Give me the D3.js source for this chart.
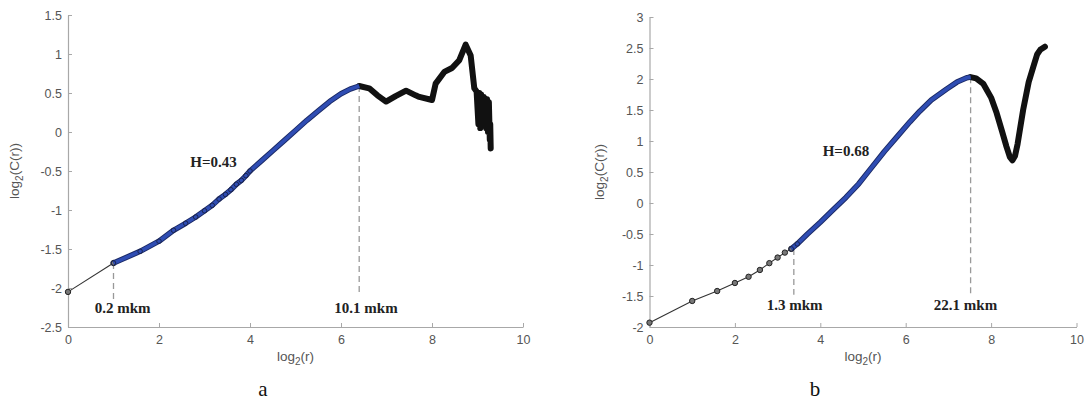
<!DOCTYPE html>
<html>
<head>
<meta charset="utf-8">
<script src="https://cdn.jsdelivr.net/npm/d3@7"></script>
<style>
  body { margin: 0; background: #fff; }
  svg { display: block; }
</style>
</head>
<body>
<svg id="chart" width="1085" height="401"></svg>
<script>
// ---------- Panel a data ----------
const aXTicks = [0, 2, 4, 6, 8, 10];
const aYTicks = [-2.5, -2, -1.5, -1, -0.5, 0, 0.5, 1, 1.5];
// initial (thin black) segment
const aInitX = [0, 1];
const aInitY = [-2.05, -1.68];
// fitted (blue) segment
const aFitX = [1, 1.585, 2, 2.32, 2.585, 2.807, 3, 3.17, 3.32, 3.46, 3.58, 3.70, 3.81, 3.91, 4.0, 4.25, 4.5, 4.75, 5.0, 5.25, 5.5, 5.75, 6.0, 6.2, 6.4];
const aFitY = [-1.68, -1.53, -1.40, -1.26, -1.17, -1.09, -1.01, -0.94, -0.86, -0.80, -0.74, -0.67, -0.62, -0.56, -0.50, -0.37, -0.24, -0.11, 0.02, 0.15, 0.27, 0.39, 0.49, 0.55, 0.59];
const aFitMarkers = 15; // markers visible on first points
// tail (thick black) segment
const aTailX = [6.4, 6.62, 6.8, 6.99, 7.2, 7.43, 7.64, 7.72, 8.0, 8.08, 8.27, 8.44, 8.6, 8.74, 8.85, 8.93, 8.98, 9.02, 9.04, 9.06, 9.08, 9.10, 9.14, 9.17, 9.19, 9.21, 9.23, 9.25, 9.27, 9.28, 9.29];
const aTailY = [0.59, 0.56, 0.47, 0.39, 0.46, 0.53, 0.47, 0.45, 0.41, 0.62, 0.77, 0.82, 0.92, 1.12, 0.98, 0.56, 0.52, 0.10, 0.50, 0.05, 0.48, 0.10, 0.45, 0.40, 0.05, 0.42, 0.00, 0.38, -0.10, 0.10, -0.21];
const aNotes = [
  { text: "H=0.43", x: 3.2, y: -0.4 },
  { text: "0.2 mkm", x: 1.2, y: -2.28 },
  { text: "10.1 mkm", x: 6.55, y: -2.28 }
];
const aGuides = [
  { x: 1, y0: -1.68, y1: -2.15 },
  { x: 6.4, y0: 0.59, y1: -2.09 }
];

// ---------- Panel b data ----------
const bXTicks = [0, 2, 4, 6, 8, 10];
const bYTicks = [-2, -1.5, -1, -0.5, 0, 0.5, 1, 1.5, 2, 2.5, 3];
const bInitX = [0, 1, 1.585, 2, 2.32, 2.585, 2.807, 3, 3.17, 3.32];
const bInitY = [-1.93, -1.58, -1.42, -1.29, -1.19, -1.08, -0.97, -0.88, -0.80, -0.74];
const bFitX = [3.32, 3.46, 3.7, 4.0, 4.3, 4.6, 4.9, 5.2, 5.5, 5.8, 6.1, 6.33, 6.6, 6.96, 7.2, 7.43, 7.52];
const bFitY = [-0.74, -0.66, -0.50, -0.31, -0.11, 0.09, 0.31, 0.57, 0.83, 1.07, 1.31, 1.48, 1.66, 1.84, 1.95, 2.02, 2.03];
const bTailX = [7.52, 7.65, 7.82, 8.0, 8.13, 8.25, 8.36, 8.44, 8.50, 8.56, 8.62, 8.75, 8.88, 8.99, 9.08, 9.15, 9.26];
const bTailY = [2.03, 2.01, 1.92, 1.70, 1.45, 1.17, 0.91, 0.74, 0.69, 0.76, 0.95, 1.50, 1.95, 2.20, 2.40, 2.47, 2.52];
const bNotes = [
  { text: "H=0.68", x: 4.6, y: 0.82 },
  { text: "1.3 mkm", x: 3.4, y: -1.67 },
  { text: "22.1 mkm", x: 7.4, y: -1.67 }
];
const bGuides = [
  { x: 3.38, y0: -0.74, y1: -1.48 },
  { x: 7.52, y0: 2.03, y1: -1.48 }
];

const panelNames = ["a", "b"];

// ---------- drawing ----------
const svg = d3.select("#chart");
const BLUE = "#2f4db3";

function drawPanel(cfg) {
  const x = d3.scaleLinear().domain([0, 10]).range(cfg.xr);
  const y = d3.scaleLinear().domain(cfg.yd).range(cfg.yr);
  const g = svg.append("g");

  const gx = g.append("g")
    .attr("transform", `translate(0,${cfg.yr[0]})`)
    .call(d3.axisBottom(x).tickValues(cfg.xTicks).tickFormat(d => String(d))
      .tickSizeInner(-4).tickSizeOuter(0).tickPadding(8));
  const gy = g.append("g")
    .attr("transform", `translate(${cfg.xr[0]},0)`)
    .call(d3.axisLeft(y).tickValues(cfg.yTicks).tickFormat(d => String(d))
      .tickSizeInner(-4).tickSizeOuter(0).tickPadding(6));
  [gx, gy].forEach(a => {
    a.select(".domain").attr("stroke", "#a8a8a8").attr("stroke-width", 1.2);
    a.selectAll(".tick line").attr("stroke", "#a8a8a8");
    a.selectAll(".tick text").attr("fill", "#555").style("font-family", "'Liberation Sans', Arial, sans-serif").style("font-size", "12.5px");
  });

  // axis labels
  const cx = (cfg.xr[0] + cfg.xr[1]) / 2;
  const xl = g.append("text").attr("x", cx).attr("y", 361).attr("text-anchor", "middle")
    .attr("fill", "#555").style("font-family", "'Liberation Sans', Arial, sans-serif").style("font-size", "13.5px");
  xl.append("tspan").text("log");
  xl.append("tspan").attr("dy", 4).style("font-size", "10px").text("2");
  xl.append("tspan").attr("dy", -4).text("(r)");

  const cy = (cfg.yr[0] + cfg.yr[1]) / 2;
  const yl = g.append("text").attr("transform", `translate(${cfg.ylx},${cy}) rotate(-90)`)
    .attr("text-anchor", "middle").attr("fill", "#555")
    .style("font-family", "'Liberation Sans', Arial, sans-serif").style("font-size", "13.5px");
  yl.append("tspan").text("log");
  yl.append("tspan").attr("dy", 4).style("font-size", "10px").text("2");
  yl.append("tspan").attr("dy", -4).text("(C(r))");

  // guides
  cfg.guides.forEach(d => {
    g.append("line").attr("x1", x(d.x)).attr("x2", x(d.x)).attr("y1", y(d.y0)).attr("y2", y(d.y1))
      .attr("stroke", cfg.guideColor).attr("stroke-width", 1.3).attr("stroke-dasharray", "6,4");
  });

  const line = d3.line().x(d => x(d[0])).y(d => y(d[1]));
  const zip = (xs, ys) => xs.map((v, i) => [v, ys[i]]);
  const init = zip(cfg.initX, cfg.initY);
  const fit = zip(cfg.fitX, cfg.fitY);
  const tail = zip(cfg.tailX, cfg.tailY);

  // tail thick black
  g.append("path").datum(tail).attr("d", line).attr("fill", "none")
    .attr("stroke", "#111").attr("stroke-width", 6).attr("stroke-linejoin", "round").attr("stroke-linecap", "round");
  // initial thin line
  g.append("path").datum(init).attr("d", line).attr("fill", "none")
    .attr("stroke", "#333").attr("stroke-width", 1.1);
  g.selectAll(null).data(init).join("circle")
    .attr("cx", d => x(d[0])).attr("cy", d => y(d[1])).attr("r", 2.7)
    .attr("fill", "#777").attr("stroke", "#222").attr("stroke-width", 1);
  // fit blue with dark edge
  g.append("path").datum(fit).attr("d", line).attr("fill", "none")
    .attr("stroke", "#1b2a66").attr("stroke-width", 5.5).attr("stroke-linejoin", "round");
  g.append("path").datum(fit).attr("d", line).attr("fill", "none")
    .attr("stroke", BLUE).attr("stroke-width", 3.6).attr("stroke-linejoin", "round");
  g.selectAll(null).data(fit.slice(0, cfg.fitMarkers)).join("circle")
    .attr("cx", d => x(d[0])).attr("cy", d => y(d[1])).attr("r", 2.3)
    .attr("fill", "none").attr("stroke", "#1a2450").attr("stroke-width", 1);

  // notes
  cfg.notes.forEach(d => {
    g.append("text").attr("x", x(d.x)).attr("y", y(d.y)).attr("text-anchor", "middle")
      .attr("dominant-baseline", "middle").attr("fill", "#222")
      .style("font-family", "'Liberation Serif', 'Times New Roman', serif").style("font-weight", "bold").style("font-size", "15px")
      .text(d.text);
  });

  // panel name
  g.append("text").attr("x", cfg.nameX).attr("y", 396).attr("text-anchor", "middle")
    .attr("fill", "#111").style("font-family", "'Liberation Serif', 'Times New Roman', serif").style("font-size", "21px")
    .text(cfg.name);
}

drawPanel({
  xr: [68, 523], yd: [-2.5, 1.5], yr: [327, 15], xTicks: aXTicks, yTicks: aYTicks,
  initX: aInitX, initY: aInitY, fitX: aFitX, fitY: aFitY, fitMarkers: aFitMarkers,
  tailX: aTailX, tailY: aTailY, notes: aNotes, guides: aGuides, guideColor: "#999",
  ylx: 19, name: panelNames[0], nameX: 263
});
drawPanel({
  xr: [649.5, 1076.5], yd: [-2, 3], yr: [327, 17], xTicks: bXTicks, yTicks: bYTicks,
  initX: bInitX, initY: bInitY, fitX: bFitX, fitY: bFitY, fitMarkers: 2,
  tailX: bTailX, tailY: bTailY, notes: bNotes, guides: bGuides, guideColor: "#999",
  ylx: 604, name: panelNames[1], nameX: 815
});
</script>
</body>
</html>
